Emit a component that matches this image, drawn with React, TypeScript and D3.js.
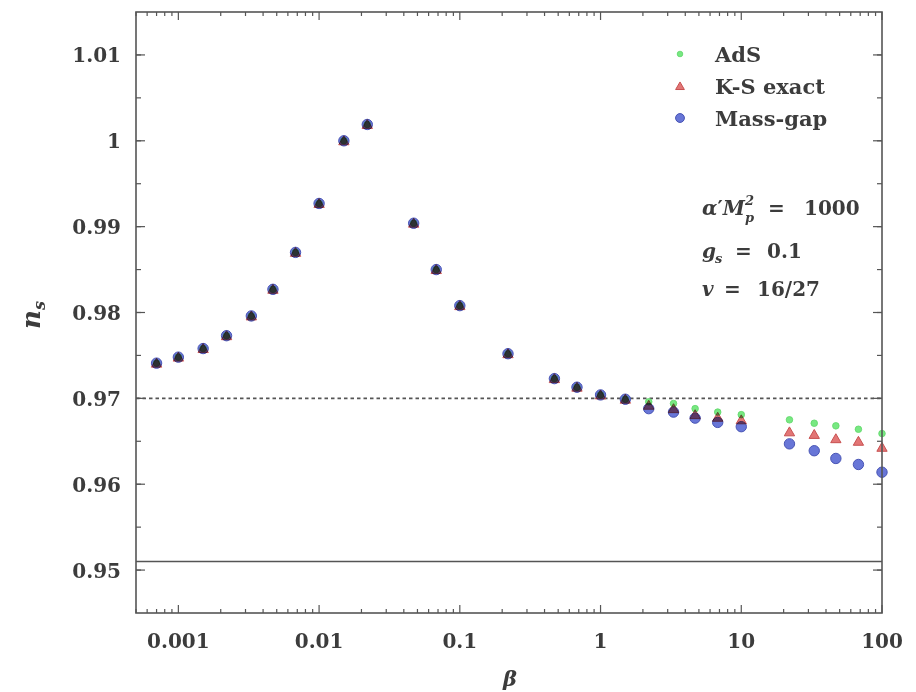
import React from 'react';
import * as d3 from 'd3';

// Spectral index n_s against beta for three warped-throat models
const beta = [
  0.0007, 0.001, 0.0015, 0.0022, 0.0033, 0.0047, 0.0068, 0.01, 0.015, 0.022,
  0.047, 0.068, 0.1, 0.22, 0.47, 0.68, 1, 1.5, 2.2, 3.3, 4.7, 6.8, 10, 22, 33, 47, 68, 100,
];

const nsAdS = [
  0.9741, 0.9748, 0.9758, 0.9773, 0.9796, 0.9827, 0.987, 0.9927, 1.0, 1.0019,
  0.9904, 0.985, 0.9808, 0.9752, 0.9723, 0.9713, 0.9704, 0.9699, 0.9696, 0.9694,
  0.9688, 0.9684, 0.9681, 0.9675, 0.9671, 0.9668, 0.9664, 0.9659,
];

const nsKSExact = [
  0.9741, 0.9748, 0.9758, 0.9773, 0.9796, 0.9827, 0.987, 0.9927, 1.0, 1.0019,
  0.9904, 0.985, 0.9808, 0.9752, 0.9723, 0.9713, 0.9704, 0.9699, 0.9692, 0.9688,
  0.9681, 0.9678, 0.9675, 0.9661, 0.9658, 0.9653, 0.965, 0.9643,
];

const nsMassGap = [
  0.9741, 0.9748, 0.9758, 0.9773, 0.9796, 0.9827, 0.987, 0.9927, 1.0, 1.0019,
  0.9904, 0.985, 0.9808, 0.9752, 0.9723, 0.9713, 0.9704, 0.9699, 0.9688, 0.9684,
  0.9677, 0.9672, 0.9667, 0.9647, 0.9639, 0.963, 0.9623, 0.9614,
];

const seriesNames = ['AdS', 'K-S exact', 'Mass-gap'];

const xTickValues = [0.001, 0.01, 0.1, 1, 10, 100];
const xTickLabels = ['0.001', '0.01', '0.1', '1', '10', '100'];
const yTickValues = [0.95, 0.96, 0.97, 0.98, 0.99, 1.0, 1.01];
const yTickLabels = ['0.95', '0.96', '0.97', '0.98', '0.99', '1', '1.01'];

const nsDashedLevel = 0.97;
const nsSolidLevel = 0.951;

const W = 916;
const H = 692;
const plot = { left: 136, right: 882, top: 12, bottom: 613 };

const TEXT = '#3c3c3c';
const AXIS = '#555';
const FONT = '"DejaVu Serif", serif';

const green = { fill: 'rgb(120,232,130)', stroke: 'rgb(95,215,105)' };
const red = { fill: 'rgb(226,118,118)', stroke: 'rgb(200,80,80)' };
const blue = { fill: 'rgb(104,118,215)', stroke: 'rgb(72,84,180)' };

export default function App() {
  const x = d3.scaleLog().domain([0.0005, 100]).range([plot.left, plot.right]);
  const y = d3.scaleLinear().domain([0.945, 1.015]).range([plot.bottom, plot.top]);

  // minor ticks: 2..9 within each decade, and every 0.005 on n_s
  const xMinor: number[] = [];
  for (let e = -4; e <= 1; e++) {
    for (let m = 2; m <= 9; m++) {
      const v = m * Math.pow(10, e);
      if (v >= 0.0005 && v <= 100) xMinor.push(v);
    }
  }
  const yMinor = d3.range(0, 14).map((i) => 0.95 + i * 0.005).filter((v) => v < 1.015);

  const blend: React.CSSProperties = { mixBlendMode: 'multiply' };

  const circleMark = (cx: number, cy: number, key: string, s = 1) => (
    <circle key={key} cx={cx} cy={cy} r={5.2 * s} fill={blue.fill} stroke={blue.stroke} strokeWidth={1} style={blend} />
  );
  const triMark = (cx: number, cy: number, key: string, s = 1) => (
    <path
      key={key}
      d={d3.symbol().type(d3.symbolTriangle).size(46 * s * s)()!}
      transform={`translate(${cx},${cy + 1})`}
      fill={red.fill}
      stroke={red.stroke}
      strokeWidth={1}
      style={blend}
    />
  );
  const dotMark = (cx: number, cy: number, key: string, s = 1) => (
    <circle key={key} cx={cx} cy={cy} r={3.3 * s} fill={green.fill} stroke={green.stroke} strokeWidth={0.8} style={blend} />
  );

  const points = (vals: number[]) => beta.map((b, i) => [x(b), y(vals[i])] as [number, number]);

  const legendRows = [
    { name: seriesNames[0], y: 54, mark: dotMark },
    { name: seriesNames[1], y: 86, mark: triMark },
    { name: seriesNames[2], y: 118, mark: circleMark },
  ];

  return (
    <svg width={W} height={H} style={{ position: 'absolute', left: 0, top: 0, background: '#fff' }}>
      <rect x={0} y={0} width={W} height={H} fill="#fff" />

      {/* reference levels */}
      <line x1={plot.left} x2={plot.right} y1={y(nsDashedLevel)} y2={y(nsDashedLevel)} stroke={AXIS} strokeWidth={1.6} strokeDasharray="3.5,3" />
      <line x1={plot.left} x2={plot.right} y1={y(nsSolidLevel)} y2={y(nsSolidLevel)} stroke={AXIS} strokeWidth={1.5} />

      {/* data */}
      <g style={{ isolation: 'isolate' }}>
        {points(nsMassGap).map(([px, py], i) => circleMark(px, py, 'b' + i))}
        {points(nsKSExact).map(([px, py], i) => triMark(px, py, 'r' + i))}
        {points(nsAdS).map(([px, py], i) => dotMark(px, py, 'g' + i))}
        {legendRows.map((r) => r.mark(680, r.y, 'leg' + r.name, 0.85))}
      </g>

      {/* frame */}
      <rect x={plot.left} y={plot.top} width={plot.right - plot.left} height={plot.bottom - plot.top} fill="none" stroke={AXIS} strokeWidth={1.6} />

      {/* ticks */}
      <g stroke={AXIS} strokeWidth={1.2}>
        {xTickValues.map((v) => (
          <g key={'xt' + v}>
            <line x1={x(v)} x2={x(v)} y1={plot.bottom} y2={plot.bottom - 8} />
            <line x1={x(v)} x2={x(v)} y1={plot.top} y2={plot.top + 8} />
          </g>
        ))}
        {xMinor.map((v) => (
          <g key={'xm' + v}>
            <line x1={x(v)} x2={x(v)} y1={plot.bottom} y2={plot.bottom - 4} />
            <line x1={x(v)} x2={x(v)} y1={plot.top} y2={plot.top + 4} />
          </g>
        ))}
        {yTickValues.map((v) => (
          <g key={'yt' + v}>
            <line x1={plot.left} x2={plot.left + 9} y1={y(v)} y2={y(v)} />
            <line x1={plot.right} x2={plot.right - 9} y1={y(v)} y2={y(v)} />
          </g>
        ))}
        {yMinor.map((v) => (
          <g key={'ym' + v}>
            <line x1={plot.left} x2={plot.left + 5} y1={y(v)} y2={y(v)} />
            <line x1={plot.right} x2={plot.right - 5} y1={y(v)} y2={y(v)} />
          </g>
        ))}
      </g>

      {/* tick labels */}
      <g fill={TEXT} fontFamily={FONT} fontWeight="bold" fontSize={20}>
        {xTickValues.map((v, i) => (
          <text key={'xl' + v} x={x(v)} y={648} textAnchor="middle">
            {xTickLabels[i]}
          </text>
        ))}
        {yTickValues.map((v, i) => (
          <text key={'yl' + v} x={121} y={y(v) + 7.5} textAnchor="end">
            {yTickLabels[i]}
          </text>
        ))}
      </g>

      {/* axis titles */}
      <text x={510} y={686} textAnchor="middle" fill={TEXT} fontFamily={FONT} fontStyle="italic" fontWeight="bold" fontSize={21}>
        β
      </text>
      <text transform="translate(40,315) rotate(-90)" textAnchor="middle" fill={TEXT} fontFamily={FONT} fontWeight="bold" fontSize={26}>
        <tspan fontStyle="italic">n</tspan>
        <tspan fontStyle="italic" fontSize={16} dy={5}>s</tspan>
      </text>

      {/* legend */}
      <g fill={TEXT} fontFamily={FONT} fontWeight="bold" fontSize={21}>
        {legendRows.map((r) => (
          <text key={'lt' + r.name} x={715} y={r.y + 8}>
            {r.name}
          </text>
        ))}
      </g>

      {/* model parameters */}
      <g fill={TEXT} fontFamily={FONT} fontWeight="bold" fontSize={20}>
        <text x={702} y={215}>
          <tspan fontStyle="italic">α</tspan>
          <tspan>′</tspan>
          <tspan fontStyle="italic">M</tspan>
        </text>
        <text x={745} y={205} fontSize={13} fontStyle="italic">2</text>
        <text x={745} y={222} fontSize={13} fontStyle="italic">p</text>
        <text x={768} y={215}>=</text>
        <text x={804} y={215}>1000</text>

        <text x={702} y={258} fontStyle="italic">g</text>
        <text x={715} y={263} fontSize={13} fontStyle="italic">s</text>
        <text x={735} y={258}>=</text>
        <text x={767} y={258}>0.1</text>

        <text x={702} y={296} fontStyle="italic">v</text>
        <text x={724} y={296}>=</text>
        <text x={757} y={296}>16/27</text>
      </g>
    </svg>
  );
}
